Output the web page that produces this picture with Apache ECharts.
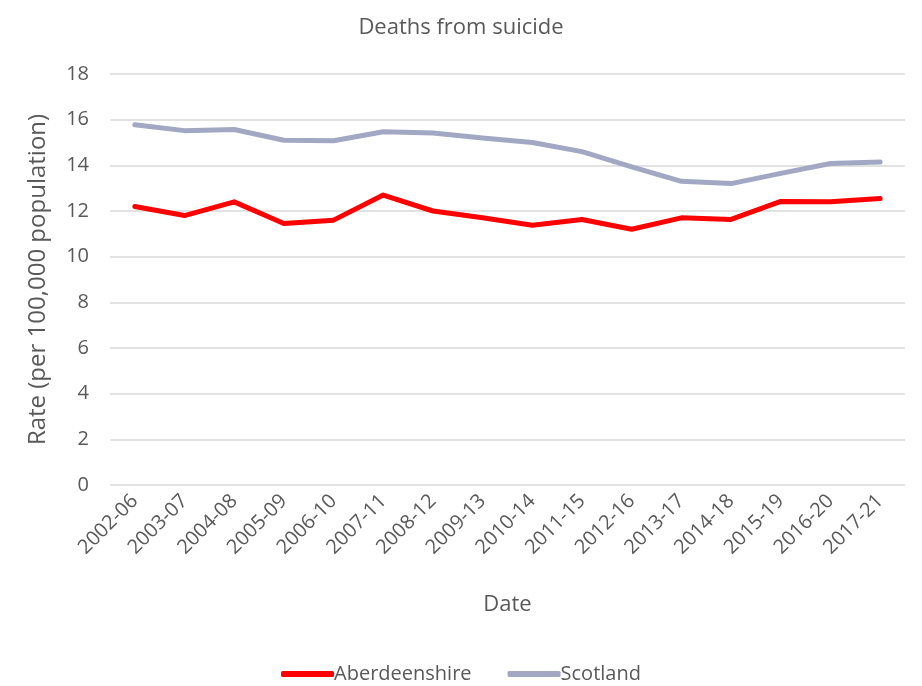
<!DOCTYPE html>
<html>
<head>
<meta charset="utf-8">
<script src="https://cdn.jsdelivr.net/npm/echarts@6/dist/echarts.min.js"></script>
<style>html,body{margin:0;padding:0;background:#fff}#c{width:922px;height:686px}</style>
</head>
<body>
<div id="c"></div>
<script>
var categories = ['2002-06','2003-07','2004-08','2005-09','2006-10','2007-11','2008-12','2009-13','2010-14','2011-15','2012-16','2013-17','2014-18','2015-19','2016-20','2017-21'];
var aberdeenshire = [12.2, 11.8, 12.4, 11.45, 11.6, 12.7, 12.0, 11.7, 11.38, 11.63, 11.2, 11.7, 11.63, 12.42, 12.4, 12.55];
var scotland = [15.78, 15.52, 15.57, 15.1, 15.08, 15.47, 15.42, 15.2, 15.0, 14.6, 13.93, 13.3, 13.2, 13.65, 14.08, 14.15];
var yTicks = {min: 0, max: 18, interval: 2};

var font = "'Open Sans', 'Noto Sans', sans-serif";
var grey = '#595959';
var chart = echarts.init(document.getElementById('c'), null, {renderer: 'canvas'});
chart.setOption({
  animation: false,
  backgroundColor: '#fff',
  title: {
    text: 'Deaths from suicide', left: 'center', top: 12,
    textStyle: {fontFamily: font, fontSize: 22, fontWeight: 'normal', color: grey}
  },
  grid: {left: 110, right: 17, top: 74, bottom: 201},
  legend: {
    top: 659, left: 'center',
    itemWidth: 53, itemHeight: 6, itemGap: 36,
    icon: 'roundRect',
    textStyle: {fontFamily: font, fontSize: 20, color: grey, padding: [0,0,0,-5]},
    data: ['Aberdeenshire', 'Scotland']
  },
  xAxis: {
    type: 'category', data: categories, boundaryGap: true,
    name: 'Date', nameLocation: 'middle', nameGap: 109,
    nameTextStyle: {fontFamily: font, fontSize: 22, color: grey},
    axisLine: {show: false}, axisTick: {show: false},
    axisLabel: {rotate: 45, interval: 0, margin: 13, fontFamily: font, fontSize: 20, color: grey}
  },
  yAxis: {
    type: 'value', min: yTicks.min, max: yTicks.max, interval: yTicks.interval,
    name: 'Rate (per 100,000 population)', nameLocation: 'middle', nameGap: 60,
    nameTextStyle: {fontFamily: font, fontSize: 24, color: grey},
    axisLine: {show: false}, axisTick: {show: false},
    axisLabel: {margin: 21, fontFamily: font, fontSize: 20, color: grey},
    splitLine: {lineStyle: {color: '#d9d9d9', width: 1.5}}
  },
  series: [
    {name: 'Aberdeenshire', type: 'line', data: aberdeenshire, showSymbol: false, symbol: 'none',
     itemStyle: {color: '#ff0000'}, lineStyle: {color: '#ff0000', width: 5, cap: 'round', join: 'round'}},
    {name: 'Scotland', type: 'line', data: scotland, showSymbol: false, symbol: 'none',
     itemStyle: {color: '#a2a8c3'}, lineStyle: {color: '#a2a8c3', width: 5, cap: 'round', join: 'round'}}
  ]
});
</script>
</body>
</html>
